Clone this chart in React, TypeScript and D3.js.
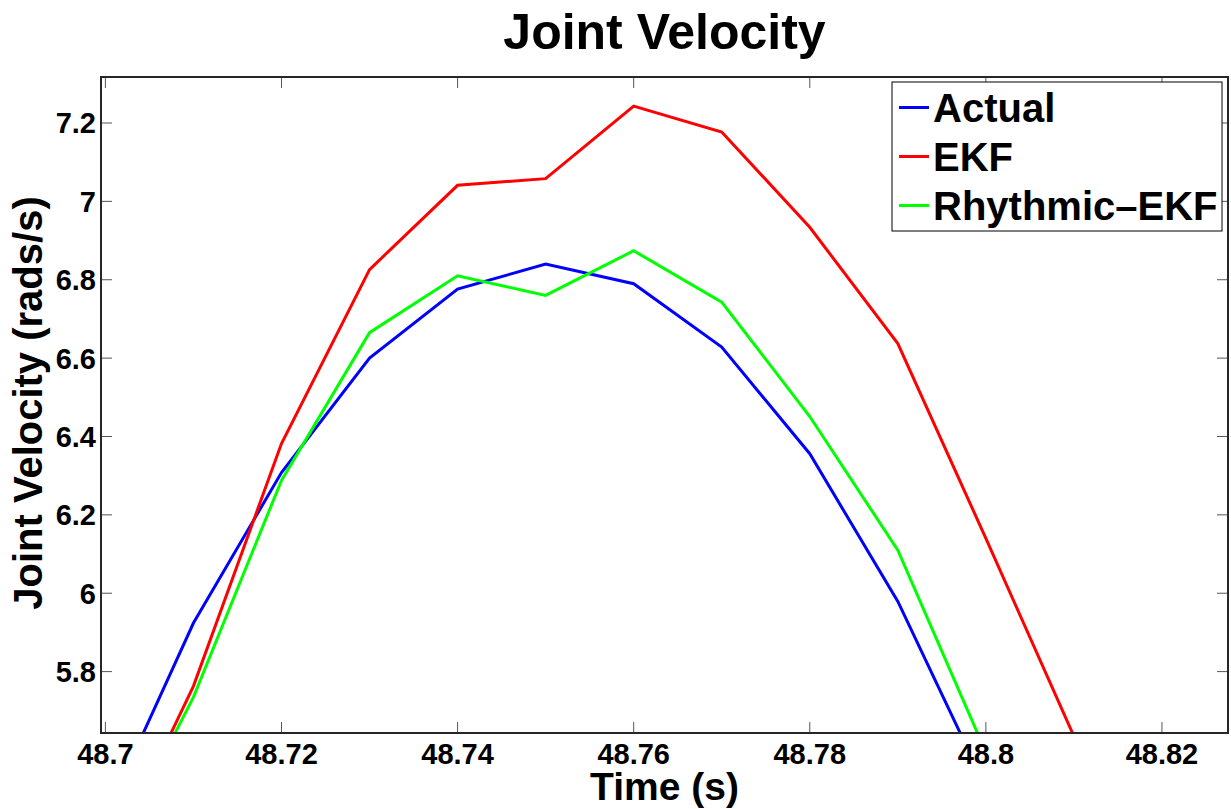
import React from "react";
import * as d3 from "d3";

// Sample times (s) and joint velocity estimates (rads/s)
const times = [48.70, 48.71, 48.72, 48.73, 48.74, 48.75, 48.76, 48.77, 48.78, 48.79, 48.80, 48.81, 48.82];
const actual = [5.431, 5.924, 6.308, 6.600, 6.776, 6.840, 6.790, 6.628, 6.356, 5.979, 5.505, 5.05, 4.6];
const ekf = [5.292, 5.763, 6.382, 6.826, 7.041, 7.058, 7.243, 7.177, 6.934, 6.637, 6.140, 5.635, 5.13];
const rhythmicEkf = [5.294, 5.735, 6.288, 6.665, 6.810, 6.760, 6.874, 6.743, 6.451, 6.110, 5.594, 5.08, 4.57];

const xTicks = [48.7, 48.72, 48.74, 48.76, 48.78, 48.8, 48.82];
const yTicks = [5.8, 6, 6.2, 6.4, 6.6, 6.8, 7, 7.2];

const seriesNames = ["Actual", "EKF", "Rhythmic\u2013EKF"];
const seriesColors = ["#0000ff", "#ff0000", "#00ff00"];
const seriesValues = [actual, ekf, rhythmicEkf];

const W = 1231;
const H = 809;
const plot = { left: 101, right: 1228, top: 77, bottom: 733 };
const FONT = "'Liberation Sans', Arial, Helvetica, sans-serif";

export default function App() {
  const x = d3.scaleLinear().domain([48.6995, 48.8275]).range([plot.left, plot.right]);
  const y = d3.scaleLinear().domain([5.6433, 7.3174]).range([plot.bottom, plot.top]);

  const line = (vals: number[]) =>
    d3
      .line<number>()
      .x((_, i) => x(times[i]))
      .y((v) => y(v))(vals) as string;

  const axisColor = "#262626";
  const tickLen = 11;

  const fmtX = (v: number) => String(+v.toFixed(2));
  const fmtY = (v: number) => String(+v.toFixed(1));

  const legend = { x: 892, y: 82, w: 330, h: 149 };

  return (
    <svg
      width={W}
      height={H}
      style={{ position: "absolute", left: 0, top: 0, background: "#fff" }}
      fontFamily={FONT}
    >
      <defs>
        <clipPath id="plotClip">
          <rect x={plot.left} y={plot.top} width={plot.right - plot.left} height={plot.bottom - plot.top} />
        </clipPath>
      </defs>

      <rect x={0} y={0} width={W} height={H} fill="#fff" />

      {/* tick marks on all four sides, pointing inward */}
      <g stroke="#555" strokeWidth={1}>
        {xTicks.map((t) => (
          <g key={"xt" + t}>
            <line x1={x(t)} x2={x(t)} y1={plot.bottom} y2={plot.bottom - tickLen} />
            <line x1={x(t)} x2={x(t)} y1={plot.top} y2={plot.top + tickLen} />
          </g>
        ))}
        {yTicks.map((t) => (
          <g key={"yt" + t}>
            <line x1={plot.left} x2={plot.left + tickLen} y1={y(t)} y2={y(t)} />
            <line x1={plot.right} x2={plot.right - tickLen} y1={y(t)} y2={y(t)} />
          </g>
        ))}
      </g>

      {/* series */}
      <g clipPath="url(#plotClip)" fill="none" strokeWidth={3} strokeLinejoin="miter">
        {seriesValues.map((vals, i) => (
          <path key={seriesNames[i]} d={line(vals)} stroke={seriesColors[i]} />
        ))}
      </g>

      {/* axes box */}
      <rect
        x={plot.left}
        y={plot.top}
        width={plot.right - plot.left}
        height={plot.bottom - plot.top}
        fill="none"
        stroke={axisColor}
        strokeWidth={2}
      />

      {/* tick labels */}
      <g fontWeight="bold" fontSize={29} fill="#000">
        {xTicks.map((t) => (
          <text key={"xl" + t} x={x(t)} y={764} textAnchor="middle">
            {fmtX(t)}
          </text>
        ))}
        {yTicks.map((t) => (
          <text key={"yl" + t} x={96} y={y(t)} dy="0.36em" textAnchor="end">
            {fmtY(t)}
          </text>
        ))}
      </g>

      {/* title and axis labels */}
      <text x={(plot.left + plot.right) / 2} y={49} textAnchor="middle" fontWeight="bold" fontSize={50}>
        Joint Velocity
      </text>
      <text x={(plot.left + plot.right) / 2} y={800} textAnchor="middle" fontWeight="bold" fontSize={39}>
        Time (s)
      </text>
      <text
        transform={`translate(42, ${(plot.top + plot.bottom) / 2 - 2}) rotate(-90)`}
        textAnchor="middle"
        fontWeight="bold"
        fontSize={40}
      >
        Joint Velocity (rads/s)
      </text>

      {/* legend */}
      <g>
        <rect x={legend.x} y={legend.y} width={legend.w} height={legend.h} fill="#fff" stroke="#000" strokeWidth={1} />
        {seriesNames.map((name, i) => {
          const cy = 107.5 + i * 49;
          return (
            <g key={"lg" + name}>
              <line x1={899} x2={929} y1={cy} y2={cy} stroke={seriesColors[i]} strokeWidth={3} />
              <text x={933} y={cy} dy="0.36em" fontWeight="bold" fontSize={40}>
                {name}
              </text>
            </g>
          );
        })}
      </g>
    </svg>
  );
}
